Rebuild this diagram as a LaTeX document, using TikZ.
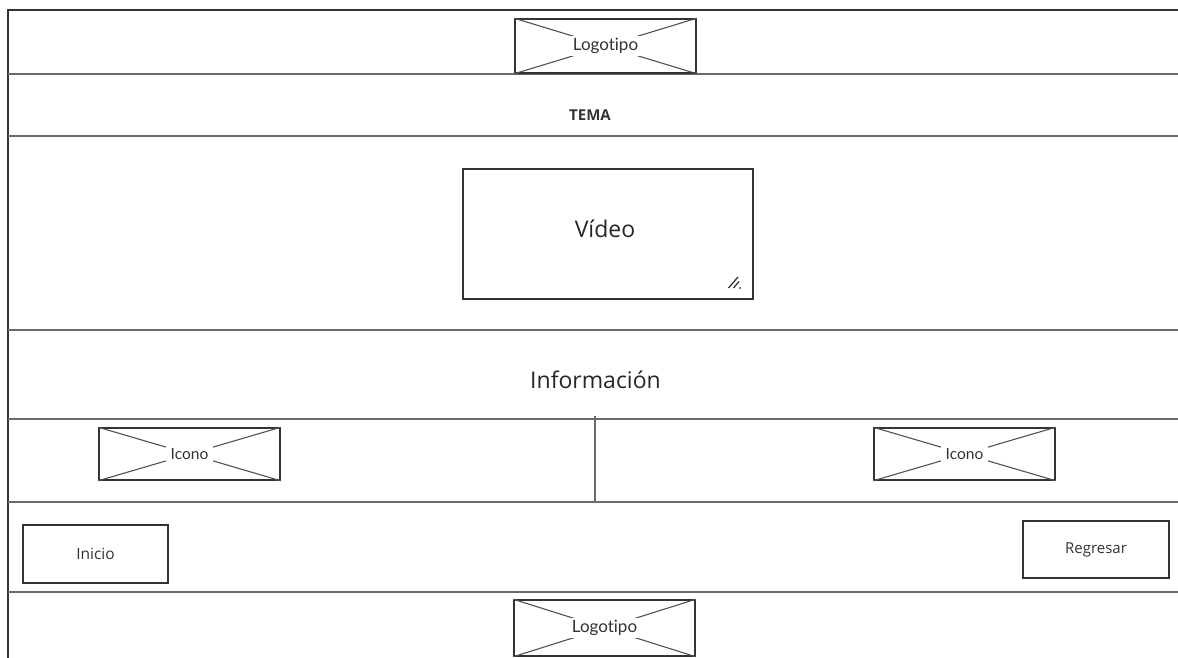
\documentclass[tikz,border=0pt]{standalone}
\usepackage{fontspec}
\setmainfont{Open Sans}
\newfontfamily\labelfont[RawFeature={-liga;-dlig;-clig}]{Lato}
\definecolor{rule}{HTML}{6A6A6A}
\definecolor{edge}{HTML}{333333}
\definecolor{ink}{HTML}{333333}
% placeholder word, set without the t-i ligature
\newcommand\logoword{Logot\kern0pt ipo}
\begin{document}
\begin{tikzpicture}[x=1pt,y=-1pt,
  framerule/.style={draw=rule,line width=1.6pt},
  phbox/.style={draw=edge,line width=1.5pt,inner sep=0pt},
  crossline/.style={draw=edge!85,line width=1.1pt},
  phlabel/.style={fill=white,inner xsep=5pt,inner ysep=2pt,text=ink},
  button/.style={draw=edge,line width=1.1pt,inner sep=0pt,text=ink},
  bigtext/.style={text=black!85,font=\fontsize{23}{27}\selectfont}
]
\useasboundingbox (0,0) rectangle (1178,658);

% page frame and section rules
\draw[framerule,draw=edge] (8,658) -- (8,10) -- (1178,10);
\foreach \yy in {74,136,330,419,502,592}
  \draw[framerule] (8,\yy) -- (1178,\yy);
\draw[framerule] (595,416) -- (595,502);

% top logo placeholder
\node[phbox,minimum width=181pt,minimum height=54pt] (logoTop) at (605.5,46) {};
\draw[crossline] (logoTop.north west) -- (logoTop.south east);
\draw[crossline] (logoTop.south west) -- (logoTop.north east);
\node[phlabel,font=\labelfont\fontsize{17}{20}\selectfont] (logoTopText) at (logoTop) {\logoword};

% topic title
\node[text=ink,font=\bfseries\fontsize{15}{18}\selectfont] (tema) at (590,115) {TEMA};

% video frame with its resize grip
\node[draw=edge,line width=1.3pt,minimum width=290pt,minimum height=130pt,inner sep=0pt] (video) at (608,234) {};
\node[bigtext] (videoText) at (605,229) {Vídeo};
\draw[edge,line width=1.3pt] (728.5,288) -- (738,277);
\draw[edge,line width=1.3pt] (733.5,288) -- (739,281.5);
\fill[edge] (740,288) circle (1);

% information
\node[bigtext] (info) at (595.5,380) {Información};

% icon placeholders
\node[phbox,minimum width=181pt,minimum height=52pt] (iconL) at (189.5,454) {};
\draw[crossline] (iconL.north west) -- (iconL.south east);
\draw[crossline] (iconL.south west) -- (iconL.north east);
\node[phlabel,font=\labelfont\fontsize{15.5}{18}\selectfont] (iconLText) at (iconL) {Icono};

\node[phbox,minimum width=181pt,minimum height=52pt] (iconR) at (964.5,454) {};
\draw[crossline] (iconR.north west) -- (iconR.south east);
\draw[crossline] (iconR.south west) -- (iconR.north east);
\node[phlabel,font=\labelfont\fontsize{15.5}{18}\selectfont] (iconRText) at (iconR) {Icono};

% navigation buttons
\node[button,font=\fontsize{15.5}{18}\selectfont,minimum width=145pt,minimum height=58pt] (inicio) at (95.5,554) {Inicio};
\node[button,font=\fontsize{15}{18}\selectfont,minimum width=146pt,minimum height=57pt] (regresar) at (1096,549.5) {Regresar};

% bottom logo placeholder
\node[phbox,minimum width=181pt,minimum height=56pt] (logoBot) at (604.5,628) {};
\draw[crossline] (logoBot.north west) -- (logoBot.south east);
\draw[crossline] (logoBot.south west) -- (logoBot.north east);
\node[phlabel,font=\labelfont\fontsize{17}{20}\selectfont] (logoBotText) at (logoBot) {\logoword};
\end{tikzpicture}
\end{document}
